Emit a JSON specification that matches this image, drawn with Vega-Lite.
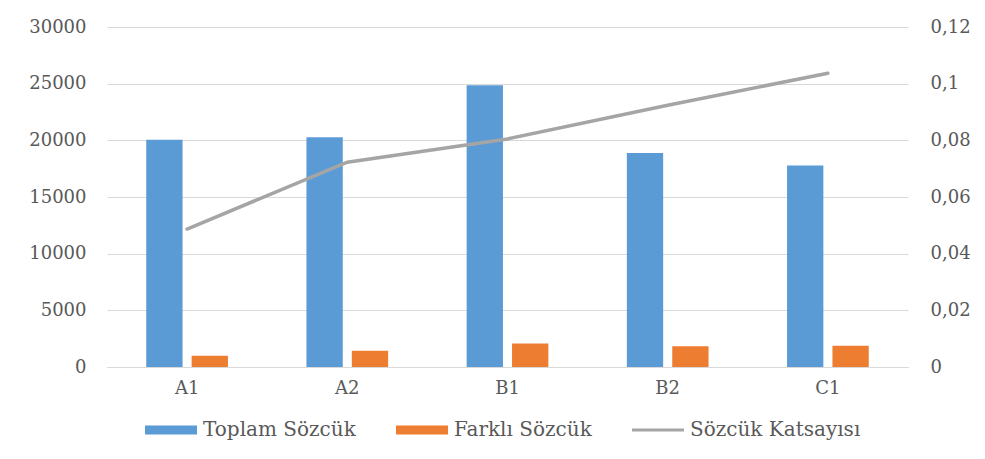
{
  "$schema": "https://vega.github.io/schema/vega-lite/v6.json",
  "autosize": "none",
  "width": 801,
  "height": 340,
  "padding": {"left": 107, "top": 27, "right": 77, "bottom": 92},
  "background": "white",
  "data": {
    "values": [
      {"kategori": "A1", "seri": "Toplam Sözcük", "deger": 20060},
      {"kategori": "A2", "seri": "Toplam Sözcük", "deger": 20265},
      {"kategori": "B1", "seri": "Toplam Sözcük", "deger": 24850},
      {"kategori": "B2", "seri": "Toplam Sözcük", "deger": 18890},
      {"kategori": "C1", "seri": "Toplam Sözcük", "deger": 17770},
      {"kategori": "A1", "seri": "Farklı Sözcük", "deger": 1000},
      {"kategori": "A2", "seri": "Farklı Sözcük", "deger": 1440},
      {"kategori": "B1", "seri": "Farklı Sözcük", "deger": 2080},
      {"kategori": "B2", "seri": "Farklı Sözcük", "deger": 1820},
      {"kategori": "C1", "seri": "Farklı Sözcük", "deger": 1880},
      {"kategori": "A1", "seri": "Sözcük Katsayısı", "deger": 0.0487},
      {"kategori": "A2", "seri": "Sözcük Katsayısı", "deger": 0.0723},
      {"kategori": "B1", "seri": "Sözcük Katsayısı", "deger": 0.0805},
      {"kategori": "B2", "seri": "Sözcük Katsayısı", "deger": 0.0924},
      {"kategori": "C1", "seri": "Sözcük Katsayısı", "deger": 0.1037}
    ]
  },
  "encoding": {
    "x": {
      "field": "kategori",
      "type": "nominal",
      "sort": ["A1", "A2", "B1", "B2", "C1"],
      "scale": {"paddingInner": 0.49, "paddingOuter": 0.245},
      "axis": {
        "title": null,
        "labelAngle": 0,
        "ticks": false,
        "domainColor": "#d9d9d9",
        "labelPadding": 12
      }
    },
    "color": {
      "field": "seri",
      "type": "nominal",
      "scale": {
        "domain": ["Toplam Sözcük", "Farklı Sözcük", "Sözcük Katsayısı"],
        "range": ["#5B9BD5", "#ED7D31", "#A5A5A5"]
      },
      "legend": {
        "title": null,
        "orient": "none",
        "legendX": 38,
        "legendY": 377,
        "direction": "horizontal",
        "symbolSize": 2704,
        "labelOffset": 6,
        "columnPadding": 40,
        "labelLimit": 0,
        "labelFont": "DejaVu Serif",
        "labelFontSize": 20,
        "labelColor": "#595959",
        "symbolStrokeWidth": 0,
        "encode": {
          "symbols": {
            "update": {
              "shape": {"signal": "datum.value === 'Sözcük Katsayısı' ? 'M-1,-0.06H1V0.06H-1Z' : 'M-1,-0.173H1V0.173H-1Z'"},
              "fill": {"scale": "color", "field": "value"},
              "opacity": {"value": 1},
              "strokeWidth": {"value": 0}
            }
          }
        }
      }
    }
  },
  "layer": [
    {
      "transform": [{"filter": "datum.seri !== 'Sözcük Katsayısı'"}],
      "mark": {"type": "bar"},
      "encoding": {
        "xOffset": {
          "field": "seri",
          "type": "nominal",
          "sort": ["Toplam Sözcük", "Farklı Sözcük"],
          "scale": {"paddingInner": 0.2, "paddingOuter": 0}
        },
        "y": {
          "field": "deger",
          "type": "quantitative",
          "scale": {"domain": [0, 30000], "nice": false},
          "axis": {
            "title": null,
            "values": [0, 5000, 10000, 15000, 20000, 25000, 30000],
            "format": "d",
            "domain": false,
            "ticks": false,
            "labelPadding": 21,
            "gridColor": "#d9d9d9",
            "gridWidth": 1
          }
        }
      }
    },
    {
      "transform": [{"filter": "datum.seri === 'Sözcük Katsayısı'"}],
      "mark": {"type": "line", "strokeWidth": 3.5, "strokeCap": "round"},
      "encoding": {
        "y": {
          "field": "deger",
          "type": "quantitative",
          "scale": {"domain": [0, 0.12], "nice": false},
          "axis": {
            "title": null,
            "orient": "right",
            "values": [0, 0.02, 0.04, 0.06, 0.08, 0.1, 0.12],
            "labelExpr": "replace(toString(datum.value), '.', ',')",
            "domain": false,
            "ticks": false,
            "grid": false,
            "labelPadding": 22
          }
        }
      }
    }
  ],
  "resolve": {"scale": {"y": "independent"}},
  "config": {
    "view": {"stroke": null},
    "axis": {
      "labelFont": "DejaVu Serif",
      "labelFontSize": 18,
      "labelColor": "#595959"
    }
  }
}
